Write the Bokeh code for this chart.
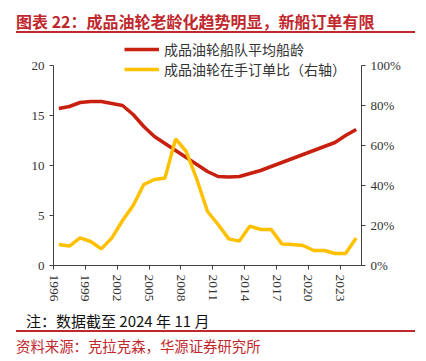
import math
from bokeh.plotting import figure
from bokeh.layouts import column
from bokeh.models import (LinearAxis, Range1d, FixedTicker, Legend, LegendItem, Div,
                          NumeralTickFormatter, ColumnDataSource)
from bokeh.embed import file_html
from bokeh.resources import INLINE

years = list(range(1996, 2025))
fleet_age = [15.7, 15.9, 16.3, 16.4, 16.4, 16.2, 16.0, 15.1, 13.9, 12.9, 12.2, 11.5, 10.8, 10.1,
             9.4, 8.9, 8.85, 8.9, 9.2, 9.5, 9.9, 10.3, 10.7, 11.1, 11.5, 11.9, 12.3, 13.0, 13.6]
orderbook_pct = [10.5, 9.7, 13.8, 12.0, 8.3, 13.8, 22.5, 30.0, 40.5, 43.0, 43.8, 63.3, 57.0, 43.0,
                 27.0, 20.5, 13.3, 12.2, 19.7, 18.0, 18.0, 10.8, 10.5, 10.0, 7.5, 7.5, 6.0, 6.0, 13.8]
tick_years = [1996, 1999, 2002, 2005, 2008, 2011, 2014, 2017, 2020, 2023]
left_ticks = [0, 5, 10, 15, 20]
right_ticks = [0, 0.2, 0.4, 0.6, 0.8, 1.0]

title_text = "图表 22：成品油轮老龄化趋势明显，新船订单有限"
series1_name = "成品油轮船队平均船龄"
series2_name = "成品油轮在手订单比（右轴）"
note_text = "注：数据截至 2024 年 11 月"
source_text = "资料来源：克拉克森，华源证券研究所"

RED = "#C8200E"
YELLOW = "#FFC000"
TITLE_RED = "#C0282D"
SERIF = "Liberation Serif"
CJK = "Noto Sans CJK SC"

W = 410
title_div = Div(width=W, height=26, text=(
    f'<div style="position:relative;top:2px;margin-left:11px;width:399px;padding-top:4px;line-height:20px;'
    f'font-family:\'{CJK}\';font-size:16px;font-weight:bold;color:{TITLE_RED};'
    f'border-bottom:2px solid {TITLE_RED};white-space:nowrap">{title_text}</div>'))

FH = 269
p = figure(width=W, height=FH, output_backend="svg", toolbar_location=None,
           x_range=Range1d(1996, 2025), y_range=Range1d(0, 22.7),
           min_border_left=53, min_border_right=49, min_border_top=2, min_border_bottom=40)
p.outline_line_color = None
p.grid.grid_line_color = None
p.extra_y_ranges = {"pct": Range1d(0, 1.135)}

xs = [y + 0.5 for y in years]
src = ColumnDataSource(dict(x=xs, age=fleet_age, pct=[v / 100 for v in orderbook_pct]))
r1 = p.line("x", "age", source=src, line_color=RED, line_width=3.5)
r2 = p.line("x", "pct", source=src, line_color=YELLOW, line_width=3.5, y_range_name="pct")

def style_axis(ax):
    ax.axis_line_color = "#404040"
    ax.major_tick_line_color = "#404040"
    ax.minor_tick_line_color = None
    ax.major_tick_in = 0
    ax.major_tick_out = 4
    ax.major_label_text_font = SERIF
    ax.major_label_text_font_size = "13px"
    ax.major_label_text_color = "#333333"

ax_y = p.yaxis[0]
ax_y.ticker = FixedTicker(ticks=left_ticks)
ax_y.bounds = (0, 20)
style_axis(ax_y)

ax_x = p.xaxis[0]
ax_x.ticker = FixedTicker(ticks=tick_years)
style_axis(ax_x)
ax_x.major_label_orientation = -math.pi / 2
ax_x.major_label_text_font_size = "13.5px"

ax_r = LinearAxis(y_range_name="pct", ticker=FixedTicker(ticks=right_ticks),
                  formatter=NumeralTickFormatter(format="0%"), bounds=(0, 1))
style_axis(ax_r)
p.add_layout(ax_r, "right")

legend = Legend(items=[LegendItem(label=series1_name, renderers=[r1]),
                       LegendItem(label=series2_name, renderers=[r2])],
                location=(71, 186), orientation="vertical",
                label_text_font=CJK, label_text_font_size="14px", label_text_color="#333333",
                glyph_width=35, glyph_height=18, label_height=18, label_standoff=5,
                spacing=0, padding=0, margin=0,
                background_fill_alpha=0, border_line_color=None)
p.add_layout(legend, "center")

footer_div = Div(width=W, height=47, text=(
    f'<div style="margin-left:11px;width:399px;font-family:\'{CJK}\';white-space:nowrap">'
    f'<div style="padding-top:2px;padding-left:10px;line-height:18px;font-size:15px;color:#111111;'
    f'border-bottom:2px solid {TITLE_RED}">{note_text}</div>'
    f'<div style="padding-top:6px;line-height:16px;font-size:14.4px;color:{TITLE_RED}">{source_text}</div>'
    f'</div>'))

layout = column(title_div, p, footer_div, spacing=0)
open("out.html", "w").write(file_html(layout, INLINE))
